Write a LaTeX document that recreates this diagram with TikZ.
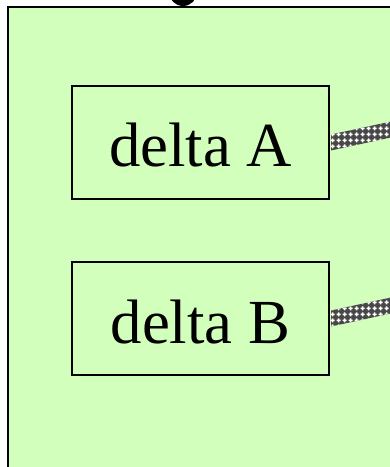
\documentclass[tikz,border=0pt]{standalone}
\usepackage{fontspec}
\setmainfont{Liberation Serif}
\usetikzlibrary{calc,patterns}
\definecolor{panelgreen}{RGB}{211,255,189}
\pgfdeclarepatternformonly{whitecross}{\pgfqpoint{0bp}{0bp}}{\pgfqpoint{6bp}{6bp}}{\pgfqpoint{6bp}{6bp}}{%
  \pgfpathrectangle{\pgfqpoint{0.8bp}{2.2bp}}{\pgfqpoint{4.4bp}{1.6bp}}%
  \pgfpathrectangle{\pgfqpoint{2.2bp}{0.8bp}}{\pgfqpoint{1.6bp}{4.4bp}}%
  \pgfusepath{fill}}
\tikzset{
  deltabox/.style={draw=black, line width=2bp, fill=panelgreen, minimum width=257bp, minimum height=113bp,
    inner sep=0pt, font=\fontsize{63}{70}\selectfont, text height=49bp, text depth=0bp},
  band/.style={fill=black!72, draw=none},
  bandpat/.style={pattern=whitecross, pattern color=white, draw=none}
}
\begin{document}
\begin{tikzpicture}[x=1bp,y=-1bp]
\useasboundingbox (0,0) rectangle (389,467);
\draw[black, line width=2bp, fill=panelgreen] (8,7) rectangle (420,500);
\fill[black] (183,-8) circle (14);
\node[deltabox] (a) at (200.5,142.5) {delta A};
\node[deltabox] (b) at (200.5,318.5) {delta B};
\coordinate (ea) at (400,127.5);
\coordinate (eb) at (400,303.5);
\foreach \n/\e in {a/ea,b/eb}{
  \path[band] ($(\n.east)+(1,-8)$) -- ($(\e)+(0,-8)$) -- ($(\e)+(0,8)$) -- ($(\n.east)+(1,8)$) -- cycle;
  \path[bandpat] ($(\n.east)+(1,-8)$) -- ($(\e)+(0,-8)$) -- ($(\e)+(0,8)$) -- ($(\n.east)+(1,8)$) -- cycle;
}
\end{tikzpicture}
\end{document}
